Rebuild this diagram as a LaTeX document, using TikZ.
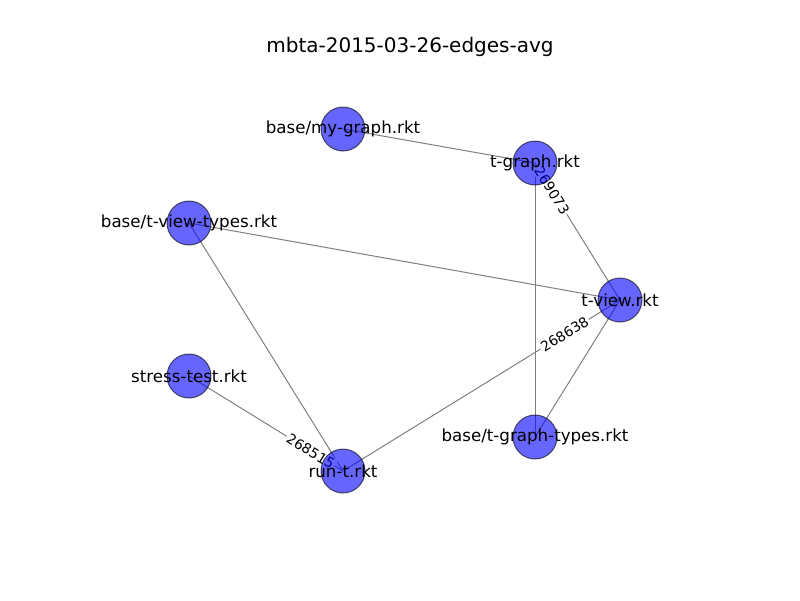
\documentclass[tikz,border=0pt]{standalone}
\usepackage{fontspec}
\setmainfont{DejaVu Sans}
\usetikzlibrary{calc}
\begin{document}
\begin{tikzpicture}[x=1pt,y=-1pt,
  gnode/.style={circle,minimum size=44pt,inner sep=0pt,fill={rgb,255:red,0;green,0;blue,255},draw=black,line width=1pt,opacity=0.6},
  nlabel/.style={font=\fontsize{16.67}{20}\selectfont,inner sep=0pt},
  gedge/.style={draw={rgb,255:red,128;green,128;blue,128},line width=1pt},
  elabel/.style={font=\fontsize{13.9}{16}\selectfont,fill=white,rounded corners=2pt,inner sep=1.5pt}]
\useasboundingbox (0,0) rectangle (800,600);
\node[font=\fontsize{20}{24}\selectfont] (title) at (410,47) {mbta-2015-03-26-edges-avg};
% coordinates
\coordinate (mg) at (343,129);
\coordinate (tg) at (535,163);
\coordinate (tvt) at (189,223);
\coordinate (tv) at (620,300);
\coordinate (st) at (189,376);
\coordinate (tgt) at (535,437);
\coordinate (rt) at (343,471);
% edges
\draw[gedge] (mg) -- (tg);
\draw[gedge] (tg) -- (tv);
\draw[gedge] (tg) -- (tgt);
\draw[gedge] (tvt) -- (tv);
\draw[gedge] (tvt) -- (rt);
\draw[gedge] (tv) -- (tgt);
\draw[gedge] (tv) -- (rt);
\draw[gedge] (st) -- (rt);
% edge labels
\node[elabel,rotate=-58.2] (l1) at ($(tg)!0.2!(tv)$) {269073};
\node[elabel,rotate=31.7] (l2) at ($(tv)!0.2!(rt)$) {268638};
\node[elabel,rotate=-31.7] (l3) at ($(rt)!0.21!(st)$) {268515};
% nodes
\node[gnode] (nmg) at (mg) {};
\node[gnode] (ntg) at (tg) {};
\node[gnode] (ntvt) at (tvt) {};
\node[gnode] (ntv) at (tv) {};
\node[gnode] (nst) at (st) {};
\node[gnode] (ntgt) at (tgt) {};
\node[gnode] (nrt) at (rt) {};
% node labels
\node[nlabel] at (mg) {base/my-graph.rkt};
\node[nlabel] at (tg) {t-graph.rkt};
\node[nlabel] at (tvt) {base/t-view-types.rkt};
\node[nlabel] at (tv) {t-view.rkt};
\node[nlabel] at (st) {stress-test.rkt};
\node[nlabel] at (tgt) {base/t-graph-types.rkt};
\node[nlabel] at (rt) {run-t.rkt};
\end{tikzpicture}
\end{document}
